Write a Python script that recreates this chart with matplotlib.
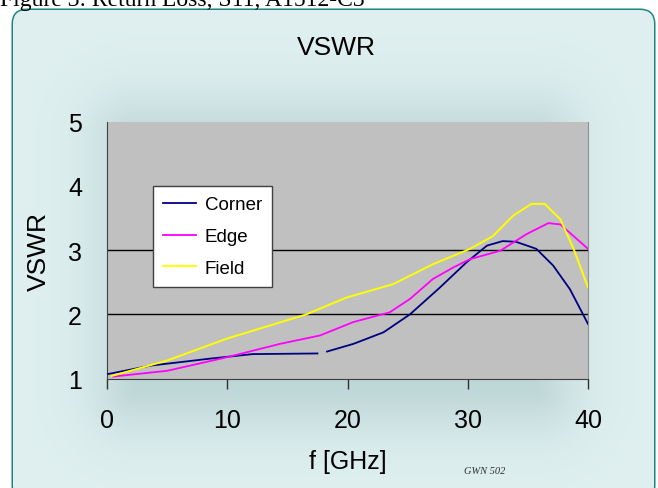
import numpy as np
import matplotlib
matplotlib.use("Agg")
import matplotlib.pyplot as plt
from matplotlib.patches import FancyBboxPatch

# ---------------- data ----------------
corner_f = [0.1, 3.6, 8.6, 12.1, 17.5, np.nan, 18.3, 20.5, 23.0, 25.2, 27.7, 29.9, 31.6, 32.9, 34.0, 35.7, 37.1, 38.5, 40.0]
corner_v = [1.07, 1.20, 1.31, 1.38, 1.39, np.nan, 1.42, 1.54, 1.72, 2.00, 2.42, 2.81, 3.07, 3.14, 3.13, 3.02, 2.76, 2.39, 1.85]

edge_f = [0.5, 5.0, 9.95, 14.4, 17.7, 20.5, 23.5, 25.2, 27.1, 28.8, 30.2, 32.7, 34.9, 36.7, 37.7, 40.0]
edge_v = [1.03, 1.12, 1.33, 1.54, 1.67, 1.88, 2.03, 2.24, 2.55, 2.73, 2.86, 2.99, 3.25, 3.42, 3.40, 3.02]

field_f = [0.4, 5.0, 9.95, 16.6, 19.9, 23.8, 27.1, 30.2, 32.1, 33.8, 35.3, 36.4, 37.7, 38.8, 40.0]
field_v = [1.04, 1.28, 1.62, 2.00, 2.26, 2.47, 2.78, 3.02, 3.22, 3.54, 3.72, 3.72, 3.48, 3.02, 2.42]

x_ticks = [0, 10, 20, 30, 40]
y_ticks = [1, 2, 3, 4, 5]
grid_levels = [2, 3]
series_names = ["Corner", "Edge", "Field"]

W, H = 658, 489
fig = plt.figure(figsize=(W / 100, H / 100), dpi=100)
fig.patch.set_facecolor("white")

# ---------------- background panel ----------------
bg = fig.add_axes([0, 0, 1, 1])
bg.set_xlim(0, W)
bg.set_ylim(H, 0)
bg.axis("off")

panel = FancyBboxPatch((13, 11), 641, 490, boxstyle="round,pad=0,rounding_size=14",
                       facecolor="#e0f0f0", edgecolor="#1e8580", linewidth=2.2, zorder=1)
bg.add_patch(panel)

# soft glow behind the plot
yy, xx = np.mgrid[0:H, 0:W]
def soft(d, s):
    return 1.0 / (1.0 + np.exp(d / s))
dx = np.maximum(np.abs(xx - 335) - 200, 0)
dy = np.maximum(np.abs(yy - 265) - 125, 0)
g = soft(np.hypot(dx, dy) - 25, 22)
base = np.array([0xe0, 0xf0, 0xf0]) / 255.0
dark = np.array([0xb4, 0xcf, 0xd0]) / 255.0
img = base[None, None, :] * (1 - g[..., None]) + dark[None, None, :] * g[..., None]
alpha = np.ones((H, W))
rgba = np.dstack([img, alpha])
im = bg.imshow(rgba, extent=(0, W, H, 0), zorder=2, interpolation="bilinear")
im.set_clip_path(panel)

# caption cut at top (as in the reference)
bg.text(0, 6, "Figure 3: Return Loss, S11, A1512-C3", family="Liberation Serif",
        fontsize=17, va="baseline", ha="left", color="black", zorder=5)

# ---------------- main axes ----------------
left, right = 107 / W, 588 / W
bottom, top = (H - 379.5) / H, (H - 122.7) / H
ax = fig.add_axes([left, bottom, right - left, top - bottom])
ax.set_facecolor("#c0c0c0")
ax.set_xlim(0, 40)
ax.set_ylim(1, 5)

for lv in grid_levels:
    ax.axhline(lv, color="black", linewidth=1.0, zorder=1)

ax.plot(corner_f, corner_v, color="#000080", linewidth=1.3, label=series_names[0], zorder=3)
ax.plot(edge_f, edge_v, color="#ff00ff", linewidth=1.3, label=series_names[1], zorder=3)
ax.plot(field_f, field_v, color="#ffff00", linewidth=1.4, label=series_names[2], zorder=3)

ax.set_xticks(x_ticks)
ax.set_xticklabels([str(t) for t in x_ticks])
ax.set_yticks(y_ticks)
ax.set_yticklabels([str(t) for t in y_ticks])
ax.set_yticks([1, 2, 3], minor=True)
ax.tick_params(axis="y", which="major", length=0, pad=18)
ax.tick_params(axis="y", which="minor", length=7.5, width=1.0, color="#303030", direction="out")
ax.tick_params(axis="x", which="major", length=7.5, width=1.0, color="#303030", direction="out", pad=14)
for lab in ax.get_xticklabels() + ax.get_yticklabels():
    lab.set_family("Liberation Sans")
    lab.set_fontsize(18)

ax.spines["top"].set_visible(False)
ax.spines["right"].set_color("#909090")
ax.spines["left"].set_color("#404040")
ax.spines["bottom"].set_color("#404040")

ax.set_xlabel("f [GHz]", family="Liberation Sans", fontsize=18, labelpad=12)
ax.set_ylabel("VSWR", family="Liberation Sans", fontsize=19, labelpad=12)

leg = ax.legend(loc="upper left", bbox_to_anchor=((153 - 107) / 481, (379.5 - 187) / 256.8),
                frameon=True, fancybox=False, prop={"family": "Liberation Sans", "size": 13.5},
                handlelength=1.75, handletextpad=0.45, labelspacing=0.78, borderpad=0.55,
                borderaxespad=0)
leg.get_frame().set_edgecolor("#404040")
leg.get_frame().set_linewidth(1.0)
leg.get_frame().set_facecolor("white")
leg.get_frame().set_alpha(1)

fig.text(336 / W, 1 - 48 / H, "VSWR", family="Liberation Sans", fontsize=19,
         ha="center", va="center")
fig.text(485 / W, 1 - 472 / H, "GWN 502", family="Liberation Serif", style="italic",
         fontsize=7.5, ha="center", va="center", color="#303030")

fig.savefig("out.png", dpi=100)
